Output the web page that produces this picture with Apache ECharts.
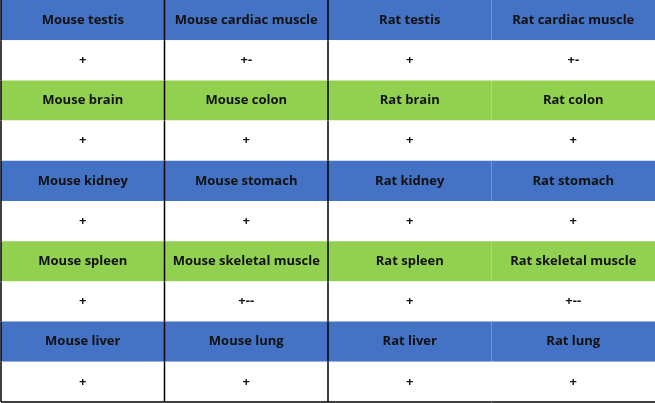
<!DOCTYPE html>
<html><head><meta charset="utf-8">
<script src="https://cdn.jsdelivr.net/npm/echarts@6/dist/echarts.min.js"></script>
<style>html,body{margin:0;padding:0;background:#fff}#c{width:655px;height:403px}</style>
</head><body><div id="c"></div>
<script>
const columns = ['c1','c2','c3','c4'];
const headerRows = [
  ['Mouse testis','Mouse cardiac muscle','Rat testis','Rat cardiac muscle'],
  ['Mouse brain','Mouse colon','Rat brain','Rat colon'],
  ['Mouse kidney','Mouse stomach','Rat kidney','Rat stomach'],
  ['Mouse spleen','Mouse skeletal muscle','Rat spleen','Rat skeletal muscle'],
  ['Mouse liver','Mouse lung','Rat liver','Rat lung']
];
const valueRows = [
  ['+','+-','+','+-'],
  ['+','+','+','+'],
  ['+','+','+','+'],
  ['+','+--','+','+--'],
  ['+','+','+','+']
];
const headerColors = ['#4472C4','#92D050','#4472C4','#92D050','#4472C4'];

const rows = [];
const data = [];
headerRows.forEach((h, i) => {
  rows.push('h' + i, 'v' + i);
  h.forEach((t, j) => data.push([j, 2 * i, t, headerColors[i], 1]));
  valueRows[i].forEach((t, j) => data.push([j, 2 * i + 1, t, '#ffffff', 0]));
});

const chart = echarts.init(document.getElementById('c'));
chart.setOption({
  animation: false,
  grid: {left: 1, right: 0, top: 0, bottom: 1},
  xAxis: {type: 'category', data: columns, show: false},
  yAxis: {type: 'category', data: rows, inverse: true, show: false},
  series: [{
    type: 'custom',
    data: data,
    renderItem: function (params, api) {
      const c = api.coord([api.value(0), api.value(1)]);
      const s = api.size([1, 1]);
      const x = c[0] - s[0] / 2, y = c[1] - s[1] / 2;
      const col = api.value(0), row = api.value(1);
      const children = [
        {type: 'rect', shape: {x: x, y: y, width: s[0], height: s[1]}, style: {fill: data[params.dataIndex][3]}},
        {type: 'text', x: c[0], y: c[1], style: {text: data[params.dataIndex][2], align: 'center', verticalAlign: 'middle',
          font: 'bold 13px "Open Sans", sans-serif', fill: '#111'}}
      ];
      if (col <= 2) children.push({type: 'line', shape: {x1: x, y1: y, x2: x, y2: y + s[1]}, style: {stroke: '#000', lineWidth: 1.5}});
      if (row === rows.length - 1) children.push({type: 'line', shape: {x1: x, y1: y + s[1], x2: x + s[0], y2: y + s[1]}, style: {stroke: '#000', lineWidth: 1.5}});
      return {type: 'group', children: children};
    }
  }]
});
</script></body></html>
